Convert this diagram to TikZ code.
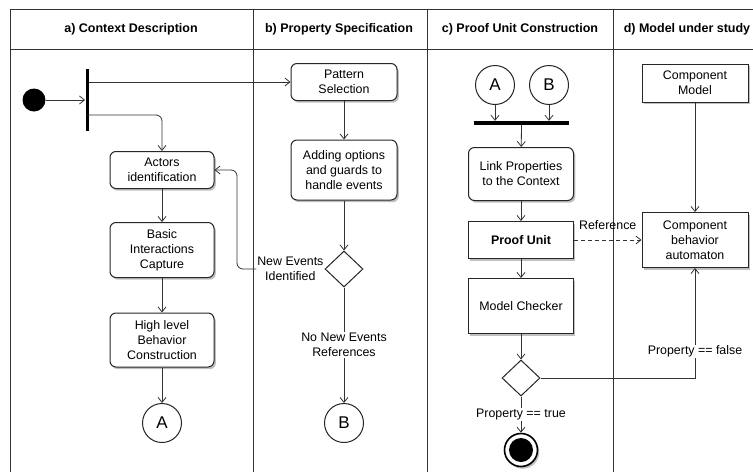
\documentclass[tikz,border=0pt]{standalone}
\usepackage{fontspec}
\setmainfont{Liberation Sans}
\usepackage{tikz}
\usetikzlibrary{graphs}
\usetikzlibrary{quotes}
\usetikzlibrary{shapes.geometric}
\usetikzlibrary{shadows}
\usetikzlibrary{arrows.meta}

\begin{document}
\begin{tikzpicture}[x=1pt, y=-1pt, line width=0.8pt, draw=black!80,
    >={Straight Barb[length=5pt,width=8pt]},
    every edge quotes/.style={fill=white,align=center,inner sep=1pt,font=\fontsize{12.4}{15}\selectfont},
    box/.style={rectangle,draw=black!85,line width=1pt,fill=white,align=center,inner sep=2pt,
        font=\fontsize{12.4}{15}\selectfont,
        drop shadow={shadow xshift=1.8pt,shadow yshift=-2.2pt,opacity=0.5}},
    act/.style={box,rounded corners=6pt},
    conn/.style={circle,draw=black!85,line width=1pt,fill=white,minimum size=39pt,inner sep=0pt,
        font=\fontsize{17}{17}\selectfont},
    decision/.style={diamond,draw=black!85,line width=1pt,fill=white,minimum width=38pt,minimum height=36pt,inner sep=0pt},
    bar/.style={rectangle,fill=black,inner sep=0pt},
    lane/.style={font=\bfseries\fontsize{12.5}{14}\selectfont},
    lbl/.style={fill=white,align=center,inner sep=1pt,font=\fontsize{12.4}{15}\selectfont}]

        \useasboundingbox (0,0) rectangle (753,472);

        % swimlanes
        \draw (10,472) -- (10,9) -- (753,9);
        \draw (10,49) -- (753,49);
        \foreach \x in {253,427,613}
            \draw (\x,9) -- (\x,472);

        \node[lane] (ta) at (131,29) {a) Context Description};
        \node[lane] (tb) at (339,29) {b) Property Specification};
        \node[lane] (tc) at (520,29) {c) Proof Unit Construction};
        \node[lane] (td) at (687,29) {d) Model under study};

        % a) context
        \node[circle,fill=black,minimum size=23pt,inner sep=0pt] (start) at (34,100) {};
        \node[bar,minimum width=3pt,minimum height=62pt]         (fork) at (87,100) {};
        \coordinate (f2) at (87,115);
        \node[act,minimum width=104pt,minimum height=37pt] (act) at (162,170) {Actors\\identification};
        \node[act,minimum width=104pt,minimum height=55pt] (bic) at (162,250) {Basic\\Interactions\\Capture};
        \node[act,minimum width=104pt,minimum height=54pt] (hlb) at (162,340) {High level\\Behavior\\Construction};
        \node[conn] (A1) at (162,423) {A};

        % b) property
        \node[act,minimum width=106pt,minimum height=37pt] (pat) at (344,82)  {Pattern\\Selection};
        \node[act,minimum width=106pt,minimum height=60pt] (opt) at (344,170) {Adding options\\and guards to\\handle events};
        \node[decision] (dec1) at (344,269) {};
        \node[conn]     (B1)   at (344,423) {B};
        \coordinate (back) at (237,269);

        % c) proof unit
        \node[conn] (A2) at (495,85) {A};
        \node[conn] (B2) at (549,85) {B};
        \node[bar,minimum width=95pt,minimum height=3.5pt] (join) at (521.5,123) {};
        \node[act,minimum width=105pt,minimum height=53pt] (link) at (521,174) {Link Properties\\to the Context};
        \node[box,minimum width=105pt,minimum height=37pt,font=\bfseries\fontsize{12.4}{15}\selectfont] (pu) at (521,240) {Proof Unit};
        \node[box,minimum width=105pt,minimum height=55pt] (mc) at (521,306) {Model Checker};
        \node[decision] (dec2) at (521,378) {};
        \node[circle,draw=black,line width=1.6pt,fill=white,minimum size=33pt,inner sep=0pt,
            drop shadow={shadow xshift=1.8pt,shadow yshift=-2.2pt,opacity=0.5},
            path picture={\fill[black] (path picture bounding box.center) circle (12pt);}] (fin) at (521,450) {};

        % d) model
        \node[box,minimum width=106pt,minimum height=38pt] (cm)  at (695,83)  {Component\\Model};
        \node[box,minimum width=106pt,minimum height=55pt] (cba) at (695,240) {Component\\behavior\\automaton};

        \draw[->] (start) -- (fork);
        \draw[->] (fork.east |- pat.west) -- (pat.west);
        \draw[->,rounded corners=6pt] (f2) -| (act);
        \draw (act) edge[->] (bic);
        \draw (bic) edge[->] (hlb);
        \draw (hlb) edge[->] (A1);

        \draw (pat) edge[->] (opt);
        \draw (opt) edge[->] (dec1);
        \draw (dec1) edge["No New Events\\References", ->] (B1);
        \draw[->,rounded corners=6pt] (dec1.west) -- node[lbl,pos=0.39] {New Events\\Identified} (back) |- (act.east);

        \draw (A2) edge[->] (A2 |- join.north);
        \draw (B2) edge[->] (B2 |- join.north);
        \draw (join) edge[->] (link);
        \draw (link) edge[->] (pu);
        \draw (pu) edge[->] (mc);
        \draw (mc) edge[->] (dec2);
        \draw (dec2) edge["Property == true", ->] (fin);
        \draw[->] (dec2) -| node[lbl,pos=0.62] {Property == false} (cba);
        \draw (pu) edge["Reference" {above=9pt,fill=none}, ->, dash pattern=on 4pt off 3pt] (cba);

        \draw (cm) edge[->] (cba);
      \end{tikzpicture}
\end{document}
